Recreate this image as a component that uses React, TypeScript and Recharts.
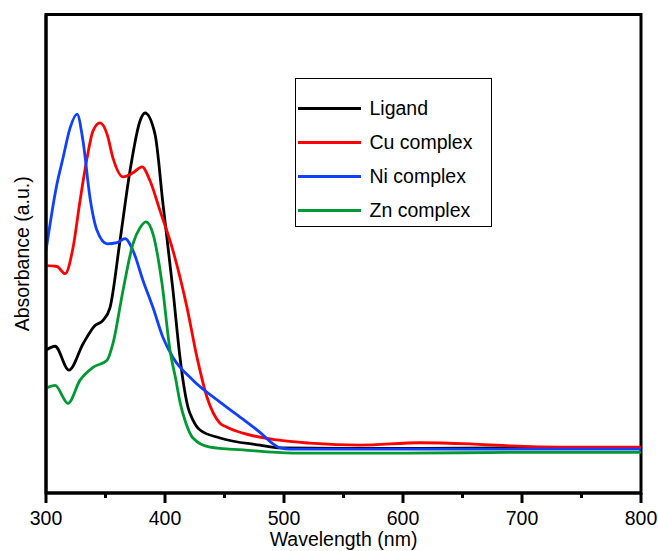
import { LineChart, Line, XAxis, YAxis, ReferenceArea, Label } from 'recharts';

// absorbance spectra (a.u., arbitrary scale 0..1.2)
const ligand = [
  { nm: 300, a: 0.358 }, { nm: 307.6, a: 0.368 }, { nm: 319.3, a: 0.308 }, { nm: 331.3, a: 0.375 },
  { nm: 341.2, a: 0.42 }, { nm: 347.9, a: 0.433 }, { nm: 353.8, a: 0.465 }, { nm: 362.2, a: 0.633 },
  { nm: 370.6, a: 0.808 }, { nm: 379, a: 0.933 }, { nm: 383.2, a: 0.953 }, { nm: 391.6, a: 0.9 },
  { nm: 398.3, a: 0.725 }, { nm: 406.7, a: 0.508 }, { nm: 412.6, a: 0.34 }, { nm: 415.1, a: 0.283 },
  { nm: 419.3, a: 0.215 }, { nm: 423.5, a: 0.183 }, { nm: 429.4, a: 0.158 }, { nm: 446.2, a: 0.138 },
  { nm: 479.8, a: 0.12 }, { nm: 496.6, a: 0.113 }, { nm: 550, a: 0.112 }, { nm: 600, a: 0.112 },
  { nm: 700, a: 0.113 }, { nm: 800, a: 0.113 },
];

const cuComplex = [
  { nm: 300, a: 0.57 }, { nm: 309.2, a: 0.568 }, { nm: 316, a: 0.55 }, { nm: 322.7, a: 0.615 },
  { nm: 328.6, a: 0.733 }, { nm: 334.5, a: 0.84 }, { nm: 339.5, a: 0.908 }, { nm: 345.4, a: 0.928 },
  { nm: 351.3, a: 0.9 }, { nm: 356.3, a: 0.84 }, { nm: 364.7, a: 0.793 }, { nm: 373.1, a: 0.803 },
  { nm: 380.7, a: 0.818 }, { nm: 387.4, a: 0.783 }, { nm: 395.8, a: 0.708 }, { nm: 406.7, a: 0.608 },
  { nm: 418.5, a: 0.465 }, { nm: 426.9, a: 0.34 }, { nm: 435.3, a: 0.24 }, { nm: 446.2, a: 0.175 },
  { nm: 452.1, a: 0.165 }, { nm: 465.5, a: 0.15 }, { nm: 494.1, a: 0.133 }, { nm: 521.8, a: 0.125 },
  { nm: 563.9, a: 0.12 }, { nm: 614.3, a: 0.126 }, { nm: 656.3, a: 0.123 }, { nm: 689.9, a: 0.118 },
  { nm: 732, a: 0.115 }, { nm: 800, a: 0.115 },
];

const niComplex = [
  { nm: 300, a: 0.608 }, { nm: 309.2, a: 0.775 }, { nm: 314.3, a: 0.84 }, { nm: 320.2, a: 0.915 },
  { nm: 326.1, a: 0.95 }, { nm: 331.1, a: 0.883 }, { nm: 337, a: 0.74 }, { nm: 342.9, a: 0.658 },
  { nm: 351.3, a: 0.625 }, { nm: 359.7, a: 0.628 }, { nm: 366.4, a: 0.638 }, { nm: 373.1, a: 0.608 },
  { nm: 381.5, a: 0.533 }, { nm: 389.9, a: 0.465 }, { nm: 398.3, a: 0.39 }, { nm: 406.7, a: 0.34 },
  { nm: 423.5, a: 0.283 }, { nm: 446.2, a: 0.228 }, { nm: 465.5, a: 0.185 }, { nm: 479.8, a: 0.152 },
  { nm: 490, a: 0.125 }, { nm: 497, a: 0.113 }, { nm: 505, a: 0.11 }, { nm: 550, a: 0.11 },
  { nm: 600, a: 0.11 }, { nm: 700, a: 0.11 }, { nm: 800, a: 0.11 },
];

const znComplex = [
  { nm: 300, a: 0.263 }, { nm: 307.6, a: 0.27 }, { nm: 318.5, a: 0.225 }, { nm: 328.6, a: 0.283 },
  { nm: 339.5, a: 0.315 }, { nm: 351.3, a: 0.333 }, { nm: 356.3, a: 0.375 }, { nm: 364.7, a: 0.508 },
  { nm: 373.1, a: 0.625 }, { nm: 379, a: 0.665 }, { nm: 384, a: 0.68 }, { nm: 389.9, a: 0.65 },
  { nm: 397.5, a: 0.525 }, { nm: 404.2, a: 0.358 }, { nm: 409.2, a: 0.283 }, { nm: 412.6, a: 0.228 },
  { nm: 417.6, a: 0.175 }, { nm: 423.5, a: 0.138 }, { nm: 437.8, a: 0.115 }, { nm: 465.5, a: 0.108 },
  { nm: 507.6, a: 0.1 }, { nm: 600, a: 0.1 }, { nm: 700, a: 0.102 }, { nm: 800, a: 0.102 },
];

const xTicks = [300, 350, 400, 450, 500, 550, 600, 650, 700, 750, 800];

const series = [
  { name: 'Ligand', data: ligand, color: '#000000' },
  { name: 'Cu complex', data: cuComplex, color: '#ff0000' },
  { name: 'Ni complex', data: niComplex, color: '#1040ff' },
  { name: 'Zn complex', data: znComplex, color: '#009933' },
];

const font = '"Liberation Sans", Arial, sans-serif';

const renderTick = (props: any) => {
  const { x, y, payload } = props;
  const major = payload.value % 100 === 0;
  return (
    <g>
      <line x1={x} x2={x} y1={y} y2={y + (major ? 10 : 5)} stroke="#000" strokeWidth={3} />
      {major && (
        <text x={x} y={y + 32} textAnchor="middle" fontSize={19.5} fontFamily={font} fill="#000">
          {payload.value}
        </text>
      )}
    </g>
  );
};

export default function App() {
  return (
    <div style={{ position: 'absolute', left: 0, top: 0, width: 658, height: 551, background: '#fff' }}>
      <LineChart width={658} height={551} margin={{ top: 14.5, right: 17, left: 0, bottom: 0 }}>
        <XAxis
          type="number"
          dataKey="nm"
          domain={[300, 800]}
          ticks={xTicks}
          interval={0}
          allowDataOverflow
          height={58}
          axisLine={{ stroke: '#000', strokeWidth: 3 }}
          tickLine={false}
          tickSize={0}
          tickMargin={0}
          tick={renderTick}
        >
          <Label
            content={({ viewBox }: any) => (
              <text
                x={viewBox.x + viewBox.width / 2}
                y={viewBox.y + 53}
                textAnchor="middle"
                fontSize={19.5}
                fontFamily={font}
                fill="#000"
              >
                Wavelength (nm)
              </text>
            )}
          />
        </XAxis>
        <YAxis
          type="number"
          dataKey="a"
          domain={[0, 1.2]}
          width={46}
          tick={false}
          tickLine={false}
          axisLine={{ stroke: '#000', strokeWidth: 3 }}
        >
          <Label
            content={({ viewBox }: any) => {
              const cy = viewBox.y + viewBox.height / 2;
              return (
                <text
                  x={29}
                  y={cy}
                  transform={`rotate(-90, 29, ${cy})`}
                  textAnchor="middle"
                  fontSize={19.5}
                  fontFamily={font}
                  fill="#000"
                >
                  Absorbance (a.u.)
                </text>
              );
            }}
          />
        </YAxis>
        <ReferenceArea x1={300} x2={800} y1={0} y2={1.2} fill="none" stroke="#000" strokeWidth={3} />
        {series.map((s) => (
          <Line
            key={s.name}
            name={s.name}
            data={s.data}
            dataKey="a"
            type="monotone"
            stroke={s.color}
            strokeWidth={2.8}
            dot={false}
            activeDot={false}
            isAnimationActive={false}
          />
        ))}
      </LineChart>

      {/* legend box */}
      <div
        style={{
          position: 'absolute',
          left: 295,
          top: 78,
          width: 197,
          height: 149,
          boxSizing: 'border-box',
          border: '1.5px solid #000',
          background: '#fff',
          fontFamily: font,
          fontSize: 19.5,
        }}
      >
        {series.map((s, i) => (
          <div
            key={s.name}
            style={{
              position: 'absolute',
              left: 0,
              top: 12 + 34 * i,
              height: 34,
              display: 'flex',
              alignItems: 'center',
              whiteSpace: 'nowrap',
            }}
          >
            <div style={{ marginLeft: 1.5, width: 63, height: 3, background: s.color }} />
            <span style={{ marginLeft: 9, color: '#000' }}>{s.name}</span>
          </div>
        ))}
      </div>
    </div>
  );
}
